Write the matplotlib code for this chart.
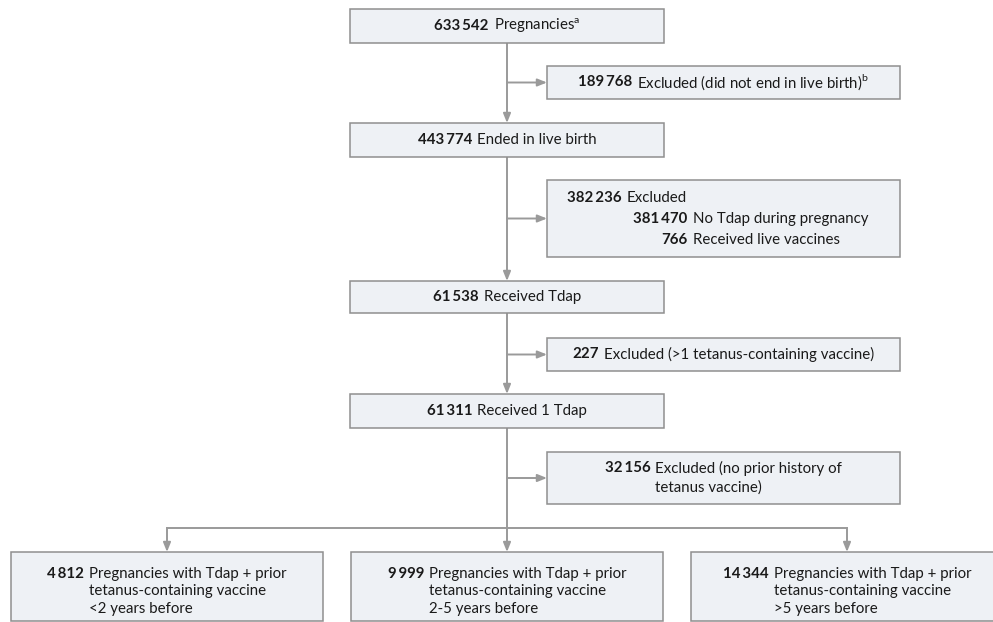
import matplotlib
matplotlib.use("Agg")
import matplotlib.pyplot as plt
from matplotlib.patches import Rectangle

plt.rcParams['font.family'] = ['Lato', 'DejaVu Sans']
plt.rcParams['mathtext.fontset'] = 'custom'
plt.rcParams['mathtext.rm'] = 'Lato'

# flow data
main_counts = [633542, 443774, 61538, 61311]
main_labels = ['Pregnancies$^{\\mathregular{a}}$', 'Ended in live birth',
               'Received Tdap', 'Received 1 Tdap']
excl_counts = [189768, 382236, 227, 32156]
excl_labels = [['Excluded (did not end in live birth)$^{\\mathregular{b}}$'],
               ['Excluded'],
               ['Excluded (>1 tetanus-containing vaccine)'],
               ['Excluded (no prior history of', 'tetanus vaccine)']]
sub_counts = [381470, 766]
sub_labels = ['No Tdap during pregnancy', 'Received live vaccines']
group_counts = [4812, 9999, 14344]
group_labels = ['<2 years before', '2-5 years before', '>5 years before']
group_prefix = ['Pregnancies with Tdap + prior', 'tetanus-containing vaccine']

FILL = '#eef1f5'
EDGE = '#8f8f8f'
LINE = '#9a9a9a'
INK = '#1a1a1a'
FS = 10.8
GAP = 5


def fmt(n):
    return f"{n:,}".replace(',', '\u2009')


fig = plt.figure(figsize=(9.93, 6.22), dpi=100)
ax = fig.add_axes([0, 0, 1, 1])
ax.set_xlim(0, 993)
ax.set_ylim(622, 0)
ax.axis('off')
renderer = fig.canvas.get_renderer()


def width(t):
    return t.get_window_extent(renderer=renderer).width


def txt(x, y, s, bold=False, ha='left'):
    return ax.text(x, y, s, fontsize=FS, fontweight='bold' if bold else 'normal',
                   va='center', ha=ha, zorder=3, color=INK)


def box(x0, y0, x1, y1):
    ax.add_patch(Rectangle((x0, y0), x1 - x0, y1 - y0, facecolor=FILL,
                           edgecolor=EDGE, linewidth=1.1, zorder=2))


def block(cx, y, num, lines, dy=20):
    tn = txt(0, y, fmt(num), bold=True)
    tl = [txt(0, y + i * dy, s) for i, s in enumerate(lines)]
    wn = width(tn)
    wl = max(width(t) for t in tl)
    left = cx - (wn + GAP + wl) / 2
    tn.set_x(left)
    for t in tl:
        t.set_x(left + wn + GAP)


def arrow(x0, y0, x1, y1):
    ax.annotate('', xy=(x1, y1), xytext=(x0, y0),
                arrowprops=dict(arrowstyle='-|>,head_length=0.55,head_width=0.22',
                                color=LINE, lw=1.4, shrinkA=0, shrinkB=0),
                zorder=1)


# main column
cx = 507
main_y = [(9, 43), (123, 157), (281, 313), (394, 428)]
excl_y = [(66, 99), (180, 257), (338, 371), (452, 504)]
excl_x = (547, 900)

for (y0, y1), n, lab in zip(main_y, main_counts, main_labels):
    box(350, y0, 664, y1)
    block(cx, (y0 + y1) / 2, n, [lab])

for i in range(3):
    arrow(cx, main_y[i][1], cx, main_y[i + 1][0])

for i, ((y0, y1), n, labs) in enumerate(zip(excl_y, excl_counts, excl_labels)):
    box(excl_x[0], y0, excl_x[1], y1)
    ym = (y0 + y1) / 2
    arrow(cx, ym, excl_x[0], ym)
    if i == 1:
        left = excl_x[0] + 20
        tn = txt(left, y0 + 18, fmt(n), bold=True)
        txt(left + width(tn) + GAP, y0 + 18, labs[0])
        for k, (sn, sl) in enumerate(zip(sub_counts, sub_labels)):
            yy = y0 + 39 + k * 21
            txt(left + 120, yy, fmt(sn), bold=True, ha='right')
            txt(left + 120 + GAP + 1, yy, sl)
    elif len(labs) == 1:
        block((excl_x[0] + excl_x[1]) / 2, ym, n, labs)
    else:
        block((excl_x[0] + excl_x[1]) / 2, ym - 10, n, labs)

# split to the three groups
ax.plot([cx, cx], [main_y[3][1], 528], color=LINE, lw=1.4, zorder=1)
gx = [167, 507, 847]
ax.plot([gx[0], gx[2]], [528, 528], color=LINE, lw=1.4, zorder=1)
for g, n, lab in zip(gx, group_counts, group_labels):
    arrow(g, 528, g, 552)
    box(g - 156, 552, g + 156, 621)
    block(g, 574, n, group_prefix + [lab], dy=17.5)

fig.savefig('out.png', dpi=100)
